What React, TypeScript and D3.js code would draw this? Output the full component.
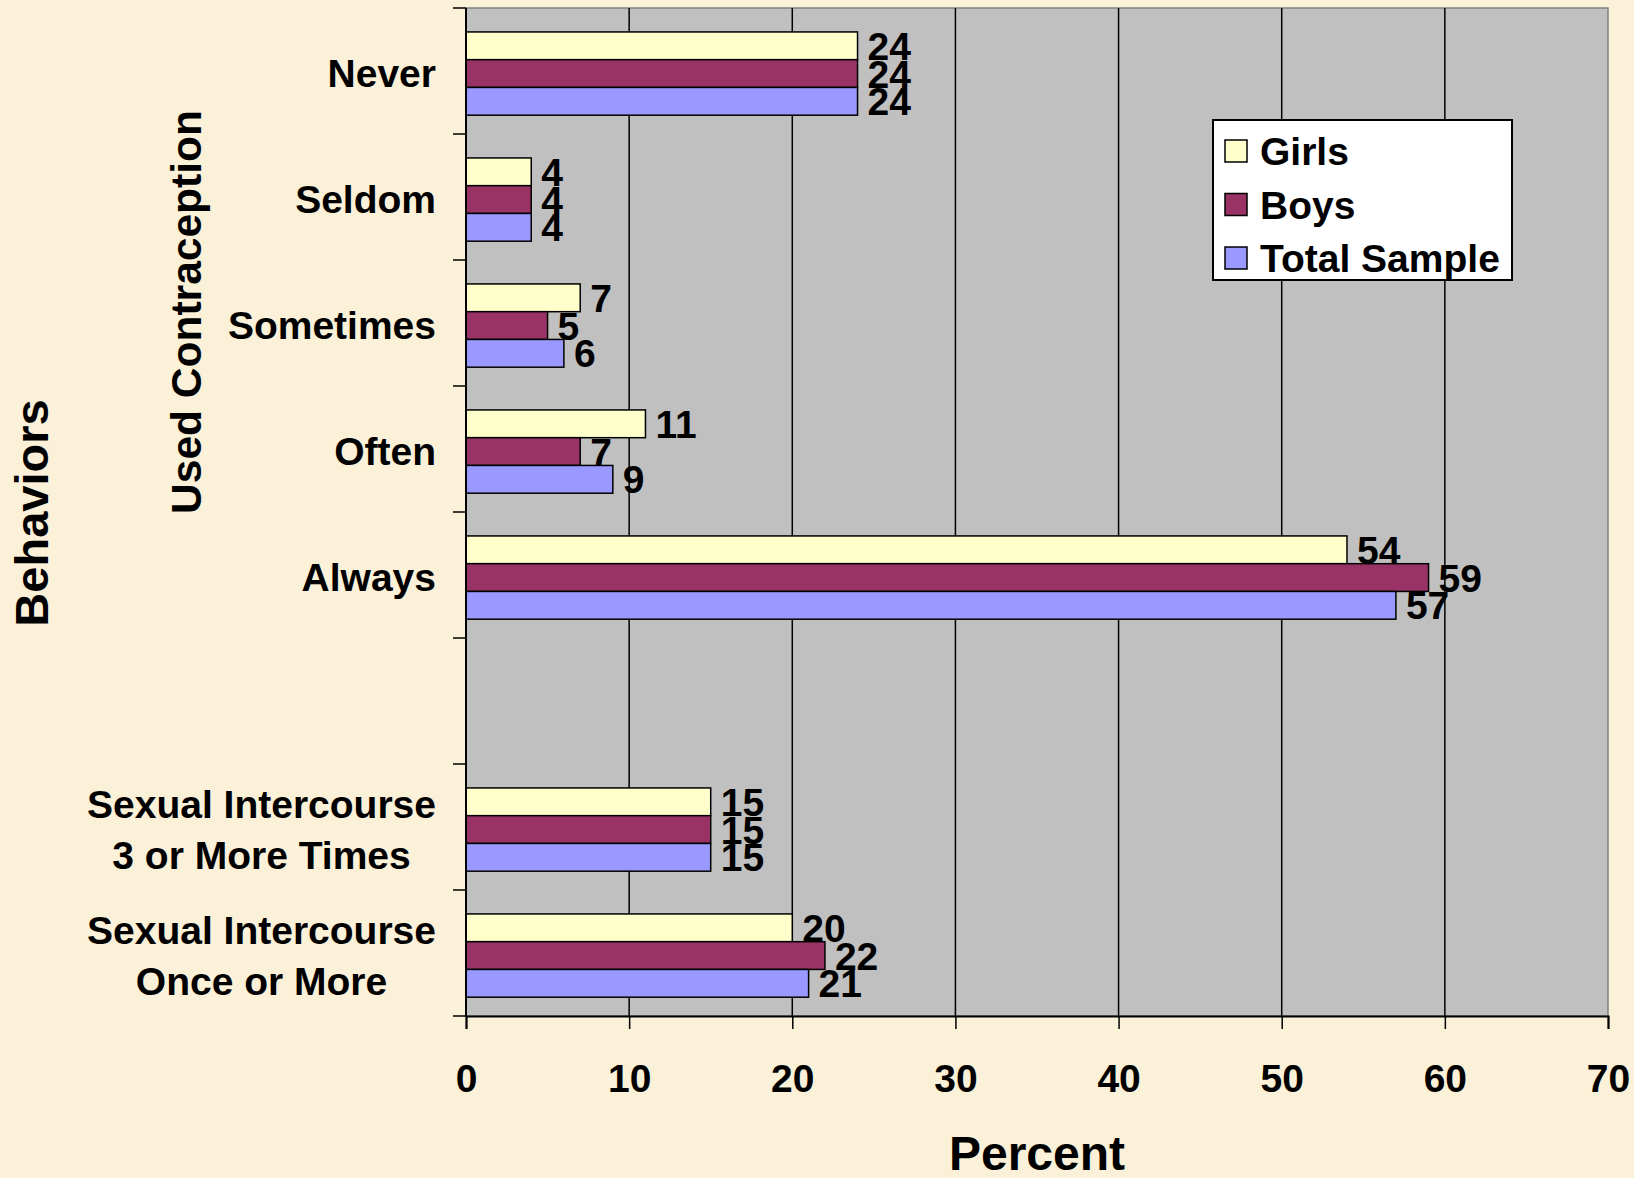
import React, { useEffect, useRef } from 'react';
import * as d3 from 'd3';

const categories = ['Never', 'Seldom', 'Sometimes', 'Often', 'Always', '', 'Sexual Intercourse|3 or More Times', 'Sexual Intercourse|Once or More'];
const seriesNames = ['Girls', 'Boys', 'Total Sample'];
const girls = [24, 4, 7, 11, 54, null, 15, 20];
const boys = [24, 4, 5, 7, 59, null, 15, 22];
const total = [24, 4, 6, 9, 57, null, 15, 21];
const xTicks = [0, 10, 20, 30, 40, 50, 60, 70];
const colors = ['#FFFFCC', '#993366', '#9999FF'];

const W = 1634;
const H = 1178;
const FONT = '"Liberation Sans", Arial, sans-serif';

export default function App() {
	const ref = useRef(null);

	useEffect(() => {
		const svg = d3.select(ref.current);
		svg.selectAll('*').remove();

		const margin = { left: 466, top: 8, right: 26, bottom: 162 };
		const innerW = W - margin.left - margin.right;
		const innerH = H - margin.top - margin.bottom;

		// background
		svg.append('rect').attr('width', W).attr('height', H).attr('fill', '#FBF0D8');

		const g = svg.append('g').attr('transform', 'translate(' + margin.left + ',' + margin.top + ')');

		const x = d3.scaleLinear().domain([0, 70]).range([0, innerW]);
		const y = d3.scaleBand().domain(categories.map((c, i) => String(i))).range([0, innerH]);
		const y1 = d3.scaleBand().domain(seriesNames).range([0, y.bandwidth()]).paddingOuter(0.77).align(0.56);

		// plot area
		g.append('rect').attr('width', innerW).attr('height', innerH)
			.attr('fill', '#C0C0C0').attr('stroke', '#808080').attr('stroke-width', 1.5);

		// gridlines
		g.selectAll('.grid').data(xTicks.slice(1, -1)).enter().append('line')
			.attr('x1', d => x(d)).attr('x2', d => x(d))
			.attr('y1', 0).attr('y2', innerH)
			.attr('stroke', '#000').attr('stroke-width', 1.5);

		const series = [girls, boys, total];
		categories.forEach((cat, ci) => {
			series.forEach((vals, si) => {
				const v = vals[ci];
				if (v == null) return;
				const by = y(String(ci)) + y1(seriesNames[si]);
				g.append('rect')
					.attr('x', x(0)).attr('y', by)
					.attr('width', x(v) - x(0)).attr('height', y1.bandwidth())
					.attr('fill', colors[si]).attr('stroke', '#000').attr('stroke-width', 1.5);
				g.append('text')
					.attr('x', x(v) + 10).attr('y', by + y1.bandwidth() / 2)
					.attr('dy', '0.36em')
					.attr('font-family', FONT).attr('font-weight', 'bold').attr('font-size', 39)
					.text(v);
			});
		});

		// axes
		const xAxis = d3.axisBottom(x).tickValues(xTicks).tickSize(13).tickPadding(35).tickFormat(d3.format('d'));
		const xg = g.append('g').attr('transform', 'translate(0,' + innerH + ')').call(xAxis);
		xg.select('.domain').attr('stroke', '#000').attr('stroke-width', 2);
		xg.selectAll('.tick line').attr('stroke', '#000').attr('stroke-width', 1.5);
		xg.selectAll('.tick text').attr('font-family', FONT).attr('font-weight', 'bold').attr('font-size', 39).attr('fill', '#000');

		const bounds = d3.range(categories.length + 1).map(i => i * y.step());
		g.selectAll('.ytick').data(bounds).enter().append('line')
			.attr('x1', -13).attr('x2', 0).attr('y1', d => d).attr('y2', d => d)
			.attr('stroke', '#000').attr('stroke-width', 1.5);
		g.append('line').attr('x1', 0).attr('x2', 0).attr('y1', 0).attr('y2', innerH)
			.attr('stroke', '#000').attr('stroke-width', 2);

		// category labels
		categories.forEach((cat, ci) => {
			if (!cat) return;
			const lines = cat.split('|');
			const cy = y(String(ci)) + y.bandwidth() / 2;
			const lh = 51;
			const t = g.append('text')
				.attr('font-family', FONT).attr('font-weight', 'bold').attr('font-size', 39);
			lines.forEach((ln, li) => {
				t.append('tspan').attr('y', cy + (li - (lines.length - 1) / 2) * lh).attr('dy', '0.42em').text(ln);
			});
			const widths = [];
			t.selectAll('tspan').each(function () { widths.push(this.getComputedTextLength()); });
			const maxW = d3.max(widths);
			t.attr('text-anchor', 'middle');
			t.selectAll('tspan').attr('x', -30 - maxW / 2);
		});

		// axis titles
		svg.append('text').attr('x', margin.left + innerW / 2).attr('y', 1170)
			.attr('text-anchor', 'middle').attr('font-family', FONT).attr('font-weight', 'bold').attr('font-size', 48)
			.text('Percent');
		svg.append('text').attr('transform', 'translate(48,513) rotate(-90)')
			.attr('text-anchor', 'middle').attr('font-family', FONT).attr('font-weight', 'bold').attr('font-size', 47)
			.text('Behaviors');
		const ucMid = margin.top + (y(String(0)) + y(String(4)) + y.bandwidth()) / 2 - 11;
		svg.append('text').attr('transform', 'translate(201,' + ucMid + ') rotate(-90)')
			.attr('text-anchor', 'middle').attr('font-family', FONT).attr('font-weight', 'bold').attr('font-size', 42.5)
			.text('Used Contraception');

		// legend
		const lg = svg.append('g').attr('transform', 'translate(1213,120)');
		lg.append('rect').attr('width', 299).attr('height', 160).attr('fill', '#fff').attr('stroke', '#000').attr('stroke-width', 2);
		seriesNames.forEach((s, i) => {
			const cy = 31 + i * 53.5;
			lg.append('rect').attr('x', 12).attr('y', cy - 11).attr('width', 22).attr('height', 22)
				.attr('fill', colors[i]).attr('stroke', '#000').attr('stroke-width', 1.5);
			lg.append('text').attr('x', 47).attr('y', cy).attr('dy', '0.36em')
				.attr('font-family', FONT).attr('font-weight', 'bold').attr('font-size', 39).text(s);
		});
	}, []);

	return <svg ref={ref} width={W} height={H} style={{ position: 'absolute', left: 0, top: 0 }} />;
}
